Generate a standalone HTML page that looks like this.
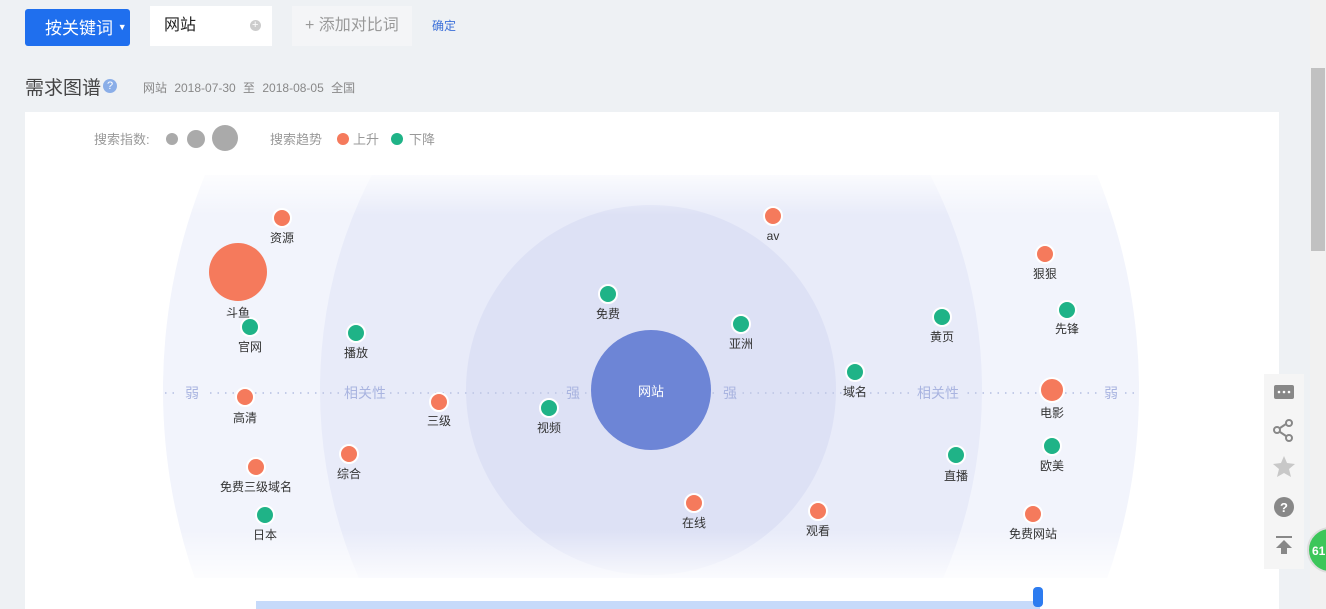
<!DOCTYPE html>
<html><head><meta charset="utf-8"><style>
html,body{margin:0;width:1326px;height:609px;overflow:hidden}
body{background:#eef1f4;font-family:"Liberation Sans","Noto Sans CJK SC",sans-serif;position:relative}
.a{position:absolute}
</style></head><body>
<div class="a" style="left:25px;top:9px;width:105px;height:37px;background:#1f6fee;border-radius:3px;color:#fff;font-size:17px;line-height:37px;text-indent:20px">按关键词 <span style="font-size:9px;vertical-align:4px">▼</span></div>
<div class="a" style="left:150px;top:6px;width:122px;height:40px;background:#fff;font-size:16px;line-height:40px;text-indent:14px;color:#222">网站<span style="position:absolute;left:100px;top:14px;width:11px;height:11px;border-radius:50%;background:#ccc;color:#fff;font-size:11px;line-height:11px;text-indent:2px">+</span></div>
<div class="a" style="left:292px;top:6px;width:120px;height:40px;background:#f4f5f7;font-size:16px;line-height:40px;text-indent:13px;color:#999">+ 添加对比词</div>
<div class="a" style="left:432px;top:17px;font-size:12px;color:#3b6fd8">确定</div>
<div class="a" style="left:25px;top:73px;font-size:19px;color:#444">需求图谱</div>
<div class="a" style="left:103px;top:79px;width:14px;height:14px;border-radius:50%;background:#8aaee8;color:#fff;font-size:11px;line-height:14px;text-align:center">?</div>
<div class="a" style="left:143px;top:79px;font-size:12px;color:#888;word-spacing:4px">网站 2018-07-30 至 2018-08-05 全国</div>
<div class="a" style="left:25px;top:112px;width:1254px;height:497px;background:#fff"></div>
<div class="a" style="left:1310px;top:0;width:16px;height:609px;background:#f1f1f1"></div>
<div class="a" style="left:1311px;top:68px;width:14px;height:183px;background:#c1c1c1"></div>
<svg class="a" style="left:0;top:0;display:block" width="1326" height="609">
<defs>
<clipPath id="c"><rect x="0" y="175" width="1326" height="403"/></clipPath>
<linearGradient id="f" x1="0" y1="0" x2="0" y2="1"><stop offset="0" stop-color="#fff" stop-opacity="0.8"/><stop offset="0.1" stop-color="#fff" stop-opacity="0"/><stop offset="0.88" stop-color="#fff" stop-opacity="0"/><stop offset="1" stop-color="#fff" stop-opacity="0.8"/></linearGradient>
</defs>
<g font-size="13" fill="#999">
<text x="94" y="144">搜索指数:</text>
<circle cx="172" cy="139" r="6" fill="#aaa"/><circle cx="196" cy="139" r="9" fill="#aaa"/><circle cx="225" cy="138" r="13" fill="#aaa"/>
<text x="270" y="144">搜索趋势</text>
<circle cx="343" cy="139" r="6" fill="#f57a5c"/><text x="353" y="144">上升</text>
<circle cx="397" cy="139" r="6" fill="#1fb387"/><text x="409" y="144">下降</text>
</g>
<g clip-path="url(#c)">
<ellipse cx="651" cy="390" rx="488" ry="530" fill="#f2f4fc"/>
<ellipse cx="651" cy="390" rx="331" ry="400" fill="#e8ebf9"/>
<circle cx="651" cy="390" r="185" fill="#dde1f5"/>
<rect x="100" y="175" width="1100" height="403" fill="url(#f)"/>
</g>
<line x1="165" y1="393" x2="1138" y2="393" stroke="#c3cbe8" stroke-width="2" stroke-dasharray="1.5,6"/>
<g font-size="14" fill="#a9b4e0" text-anchor="middle">
<rect x="180" y="383" width="24" height="20" fill="#f2f4fc"/><text x="192" y="398">弱</text>
<rect x="340" y="383" width="50" height="20" fill="#e8ebf9"/><text x="365" y="398">相关性</text>
<rect x="563" y="383" width="20" height="20" fill="#dde1f5"/><text x="573" y="398">强</text>
<rect x="720" y="383" width="20" height="20" fill="#dde1f5"/><text x="730" y="398">强</text>
<rect x="913" y="383" width="50" height="20" fill="#e8ebf9"/><text x="938" y="398">相关性</text>
<rect x="1099" y="383" width="24" height="20" fill="#f2f4fc"/><text x="1111" y="398">弱</text>
</g>
<circle cx="651" cy="390" r="60" fill="#6d85d6"/>
<text x="651" y="396" font-size="13" fill="#fff" text-anchor="middle">网站</text>
<g stroke="#fff" stroke-width="2">
<circle cx="282" cy="218" r="9" fill="#f57a5c"/><circle cx="238" cy="272" r="29" fill="#f57a5c" stroke="none"/>
<circle cx="250" cy="327" r="9" fill="#1fb387"/><circle cx="356" cy="333" r="9" fill="#1fb387"/>
<circle cx="245" cy="397" r="9" fill="#f57a5c"/><circle cx="439" cy="402" r="9" fill="#f57a5c"/>
<circle cx="549" cy="408" r="9" fill="#1fb387"/><circle cx="349" cy="454" r="9" fill="#f57a5c"/>
<circle cx="256" cy="467" r="9" fill="#f57a5c"/><circle cx="265" cy="515" r="9" fill="#1fb387"/>
<circle cx="608" cy="294" r="9" fill="#1fb387"/><circle cx="773" cy="216" r="9" fill="#f57a5c"/>
<circle cx="741" cy="324" r="9" fill="#1fb387"/><circle cx="694" cy="503" r="9" fill="#f57a5c"/>
<circle cx="818" cy="511" r="9" fill="#f57a5c"/><circle cx="855" cy="372" r="9" fill="#1fb387"/>
<circle cx="942" cy="317" r="9" fill="#1fb387"/><circle cx="956" cy="455" r="9" fill="#1fb387"/>
<circle cx="1045" cy="254" r="9" fill="#f57a5c"/><circle cx="1067" cy="310" r="9" fill="#1fb387"/>
<circle cx="1052" cy="390" r="12" fill="#f57a5c"/><circle cx="1052" cy="446" r="9" fill="#1fb387"/>
<circle cx="1033" cy="514" r="9" fill="#f57a5c"/>
</g>
<g font-size="12" fill="#333" text-anchor="middle">
<text x="282" y="242">资源</text><text x="238" y="317">斗鱼</text><text x="250" y="351">官网</text>
<text x="356" y="357">播放</text><text x="245" y="422">高清</text><text x="439" y="425">三级</text>
<text x="549" y="432">视频</text><text x="349" y="478">综合</text><text x="256" y="491">免费三级域名</text>
<text x="265" y="539">日本</text><text x="608" y="318">免费</text><text x="773" y="240">av</text>
<text x="741" y="348">亚洲</text><text x="694" y="527">在线</text><text x="818" y="535">观看</text>
<text x="855" y="396">域名</text><text x="942" y="341">黄页</text><text x="956" y="480">直播</text>
<text x="1045" y="278">狠狠</text><text x="1067" y="333">先锋</text><text x="1052" y="417">电影</text>
<text x="1052" y="470">欧美</text><text x="1033" y="538">免费网站</text>
</g>
<rect x="256" y="601" width="784" height="8" fill="#c6dafa"/>
<rect x="1033" y="587" width="10" height="20" rx="4" fill="#2d7cf0"/>
<rect x="1264" y="374" width="40" height="195" fill="#f5f5f5"/>
<g fill="#888">
<rect x="1274" y="385" width="20" height="14" rx="2"/>
<circle cx="1279" cy="392" r="1.3" fill="#fff"/><circle cx="1284" cy="392" r="1.3" fill="#fff"/><circle cx="1289" cy="392" r="1.3" fill="#fff"/>
<g stroke="#888" stroke-width="2" fill="none"><circle cx="1277" cy="430" r="3"/><circle cx="1289" cy="423" r="3"/><circle cx="1289" cy="438" r="3"/><path d="M1280 428L1286 424M1280 432L1286 436"/></g>
<path d="M1284 456l3 7 8 1-6 5 2 8-7-4-7 4 2-8-6-5 8-1z" fill="#c8c8c8"/>
<circle cx="1284" cy="507" r="10"/><text x="1284" y="512" font-size="13" fill="#fff" text-anchor="middle" font-weight="bold">?</text>
<rect x="1276" y="536" width="16" height="2"/><path d="M1284 540l-8 8h5v6h6v-6h5z"/>
</g>
<circle cx="1330" cy="550" r="22" fill="#3cc65a" stroke="#ddd" stroke-width="2"/>
<text x="1312" y="555" font-size="12" fill="#fff" font-weight="bold">61</text>
</svg>
</body></html>
